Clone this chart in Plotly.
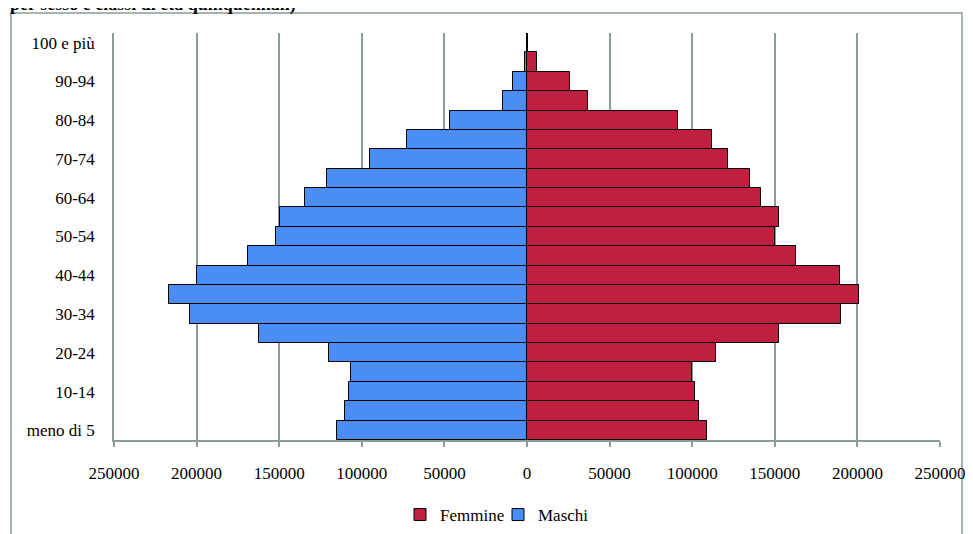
import plotly.graph_objects as go

classi = ["meno di 5", "5-9", "10-14", "15-19", "20-24", "25-29", "30-34", "35-39",
          "40-44", "45-49", "50-54", "55-59", "60-64", "65-69", "70-74", "75-79",
          "80-84", "85-89", "90-94", "95-99", "100 e più"]
maschi = [114900, 110300, 108000, 106600, 120000, 162500, 204000, 216500,
          199500, 168700, 151900, 149500, 134300, 120800, 95300, 72600,
          46800, 14500, 8300, 1500, 300]
femmine = [108700, 104000, 101600, 100000, 114500, 152300, 190100, 201200,
           189300, 162800, 150100, 152300, 141600, 135000, 121400, 112100,
           91100, 37000, 26100, 6000, 900]
x_ticks = [-250000, -200000, -150000, -100000, -50000, 0, 50000, 100000, 150000, 200000, 250000]
x_text = ["250000", "200000", "150000", "100000", "50000", "0", "50000", "100000", "150000", "200000", "250000"]
y_ticks = classi[::2]

FONT = "Liberation Serif, Times New Roman, serif"
GRID = "#8c9a9a"

fig = go.Figure()
fig.add_trace(go.Bar(y=classi, x=femmine, orientation="h", name="Femmine",
                     marker=dict(color="#c02040", line=dict(color="#000000", width=1))))
fig.add_trace(go.Bar(y=classi, x=[-v for v in maschi], orientation="h", name="Maschi",
                     marker=dict(color="#4a8ef5", line=dict(color="#000000", width=1))))

# the page body adds an 8px offset; positions below are in screen pixels
OFF = 8
W, H = 973, 534
SL, SR, ST, SB = 114, 940, 33, 440   # plot area in screen pixels
L, T = SL - OFF, ST - OFF
R, B = W - (SR - OFF), H - (SB - OFF)
pw, ph = (SR - SL), (SB - ST)

def px(xs):
    return (xs - SL) / pw

def py(ys):
    return (SB - ys) / ph

fig.update_layout(
    width=W, height=H,
    margin=dict(l=L, r=R, t=T, b=B, autoexpand=False),
    paper_bgcolor="white", plot_bgcolor="white",
    barmode="overlay", bargap=0,
    font=dict(family=FONT, size=17, color="black"),
    xaxis=dict(range=[-250000, 250000], tickvals=x_ticks, ticktext=x_text,
               showgrid=True, gridcolor=GRID, gridwidth=1.5,
               showline=True, linecolor=GRID, linewidth=2,
               ticks="outside", ticklen=5, tickcolor=GRID, tickwidth=1.5,
               ticklabelstandoff=12, zeroline=True, zerolinecolor=GRID, zerolinewidth=2,
               tickfont=dict(family=FONT, size=17), fixedrange=True, automargin=False),
    yaxis=dict(categoryorder="array", categoryarray=classi, tickvals=y_ticks,
               showgrid=False, showline=True, linecolor=GRID, linewidth=1.5,
               ticks="", ticklabelstandoff=14,
               tickfont=dict(family=FONT, size=17), fixedrange=True, automargin=False),
    legend=dict(orientation="h", x=px(400), xanchor="left", y=py(515), yanchor="middle",
                font=dict(family=FONT, size=17), traceorder="normal",
                itemwidth=30, entrywidth=53, bgcolor="rgba(0,0,0,0)"),
    annotations=[dict(text="<b>per sesso e classi di età quinquennali)</b>",
                      xref="paper", yref="paper", x=px(8), y=py(4), xanchor="left",
                      yanchor="middle", showarrow=False,
                      font=dict(family=FONT, size=18, color="black"))],
    shapes=[dict(type="rect", xref="paper", yref="paper",
                 x0=px(11), x1=px(962), y0=py(560), y1=py(13),
                 line=dict(color=GRID, width=1.5), fillcolor="rgba(0,0,0,0)", layer="below")],
)

fig.write_html("out.html")
